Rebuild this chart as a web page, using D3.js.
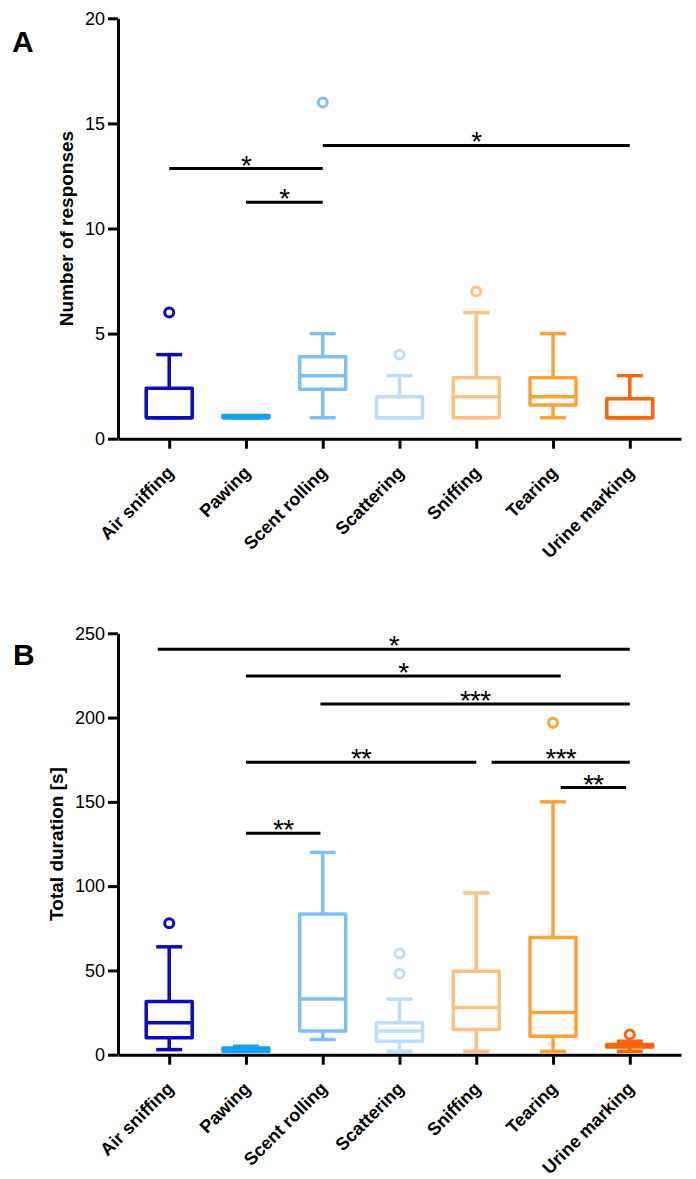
<!DOCTYPE html>
<html>
<head>
<meta charset="utf-8">
<script src="https://cdn.jsdelivr.net/npm/d3@7"></script>
<style>
    body { margin: 0; background: #fff; }
    text { font-family: "Liberation Sans", Arial, sans-serif; fill: #000; }
</style>
</head>
<body>
<svg id="chart" width="696" height="1179"></svg>
<script>
// categories + colours
const categories = ["Air sniffing", "Pawing", "Scent rolling", "Scattering", "Sniffing", "Tearing", "Urine marking"]
const colors = ["#0a0ac8", "#10a2f5", "#7dc0f8", "#bfdcf8", "#ffc080", "#ffa236", "#ff6405"]

// panel A - number of responses (min, q1, median, q3, max)
const respMin = [1, 1, 1, 1, 1, 1, 1]
const respQ1 = [1, 1, 2.35, 1, 1, 1.6, 1]
const respMedian = [1, 1, 3, 1, 2, 2, 1]
const respQ3 = [2.4, 1.1, 3.9, 2, 2.9, 2.9, 1.9]
const respMax = [4, 1, 5, 3, 6, 5, 3]
const respOutliers = [[6], [], [16], [4], [7], [], []]
const respTicks = [0, 5, 10, 15, 20]
// [from, to, value, label]
const respSig = [
    [0, 2, 12.85, "*"],
    [1, 2, 11.25, "*"],
    [2, 6, 13.95, "*"]
]

// panel B - total duration
const durMin = [3, 2, 9, 2, 2, 2, 2]
const durQ1 = [10, 2, 14, 8, 15, 11, 4.5]
const durMedian = [19, 3, 33, 14, 28, 25, 5]
const durQ3 = [31.5, 4, 83.5, 19, 49.5, 69.5, 6]
const durMax = [64, 5, 120, 33, 96, 150, 8]
const durOutliers = [[78], [], [], [48, 60], [], [197], [12]]
const durTicks = [0, 50, 100, 150, 200, 250]
const durSig = [
    [-0.15, 6, 240.5, "*"],
    [1, 5.1, 224.7, "*"],
    [1.97, 6, 208, "***"],
    [1, 4, 173.5, "**"],
    [4.2, 6, 173.5, "***"],
    [5.1, 5.95, 158.5, "**"],
    [1, 1.97, 131.4, "**"]
]

const svg = d3.select("#chart")

const left = 118
const right = 681
const boxW = 46
const capW = 26
const lw = 3.5

const drawPanel = (p) => {
    const g = svg.append("g")
    const x = d3.scalePoint().domain(categories).range([left, right]).padding(0.667)
    const xi = d3.scaleLinear().domain([0, categories.length - 1])
        .range([x(categories[0]), x(categories[categories.length - 1])])
    const y = d3.scaleLinear().domain(p.domain).range([p.bottom, p.top])

    // axes
    const yAxis = g.append("g").attr("transform", `translate(${left},0)`)
        .call(d3.axisLeft(y).tickValues(p.ticks).tickSize(10).tickSizeOuter(0).tickPadding(3))
    yAxis.selectAll("text").style("font-size", "18px")

    const xAxis = g.append("g").attr("transform", `translate(0,${p.bottom})`)
        .call(d3.axisBottom(x).tickSize(10).tickSizeOuter(0))
    xAxis.selectAll("text")
        .attr("x", 0).attr("y", 0).attr("dy", 0)
        .attr("transform", "translate(5,35) rotate(-45)")
        .style("text-anchor", "end")
        .style("font-size", "18px")
        .style("font-weight", "bold")

    g.selectAll(".domain, .tick line").attr("stroke", "#000").attr("stroke-width", 3)
    g.selectAll(".tick text").attr("fill", "#000")

    // axis title + panel letter
    const yMid = (p.top + p.bottom) / 2
    g.append("text")
        .attr("transform", `translate(${p.titleX},${yMid}) rotate(-90)`)
        .attr("text-anchor", "middle")
        .style("font-size", "19px").style("font-weight", "bold")
        .text(p.title)
    g.append("text")
        .attr("x", p.letterX).attr("y", p.letterY)
        .style("font-size", "30px").style("font-weight", "bold")
        .text(p.letter)

    // boxes
    categories.forEach((c, i) => {
        const cx = x(c)
        const col = colors[i]
        const bg = g.append("g").attr("stroke", col).attr("stroke-width", lw).attr("fill", "none")
        bg.append("line").attr("x1", cx).attr("x2", cx).attr("y1", y(p.min[i])).attr("y2", y(p.q1[i]))
        bg.append("line").attr("x1", cx).attr("x2", cx).attr("y1", y(p.q3[i])).attr("y2", y(p.max[i]))
        bg.append("line").attr("x1", cx - capW / 2).attr("x2", cx + capW / 2).attr("y1", y(p.min[i])).attr("y2", y(p.min[i]))
        bg.append("line").attr("x1", cx - capW / 2).attr("x2", cx + capW / 2).attr("y1", y(p.max[i])).attr("y2", y(p.max[i]))
        bg.append("rect")
            .attr("x", cx - boxW / 2).attr("width", boxW)
            .attr("y", y(p.q3[i])).attr("height", y(p.q1[i]) - y(p.q3[i]))
            .attr("fill", "#fff").attr("stroke-linejoin", "round")
        bg.append("line").attr("x1", cx - boxW / 2).attr("x2", cx + boxW / 2)
            .attr("y1", y(p.median[i])).attr("y2", y(p.median[i]))
        bg.selectAll("circle").data(p.outliers[i]).join("circle")
            .attr("cx", cx).attr("cy", d => y(d)).attr("r", 4.5)
            .attr("fill", "#fff").attr("stroke-width", 3)
    })

    // significance bars
    const sig = g.selectAll(".sig").data(p.sig).join("g").attr("class", "sig")
    sig.append("line")
        .attr("x1", d => xi(d[0])).attr("x2", d => xi(d[1]))
        .attr("y1", d => y(d[2])).attr("y2", d => y(d[2]))
        .attr("stroke", "#000").attr("stroke-width", 3)
    sig.append("text")
        .attr("x", d => (xi(d[0]) + xi(d[1])) / 2)
        .attr("y", d => y(d[2]) + 6)
        .attr("text-anchor", "middle")
        .style("font-size", "28px")
        .style("letter-spacing", "-0.8px")
        .text(d => d[3])
}

drawPanel({
    domain: [0, 20], top: 18.3, bottom: 438.7, ticks: respTicks,
    min: respMin, q1: respQ1, median: respMedian, q3: respQ3, max: respMax,
    outliers: respOutliers, sig: respSig,
    title: "Number of responses", titleX: 73, letter: "A", letterX: 12, letterY: 52
})

drawPanel({
    domain: [0, 250], top: 633.3, bottom: 1054.7, ticks: durTicks,
    min: durMin, q1: durQ1, median: durMedian, q3: durQ3, max: durMax,
    outliers: durOutliers, sig: durSig,
    title: "Total duration [s]", titleX: 63, letter: "B", letterX: 13, letterY: 665
})
</script>
</body>
</html>
